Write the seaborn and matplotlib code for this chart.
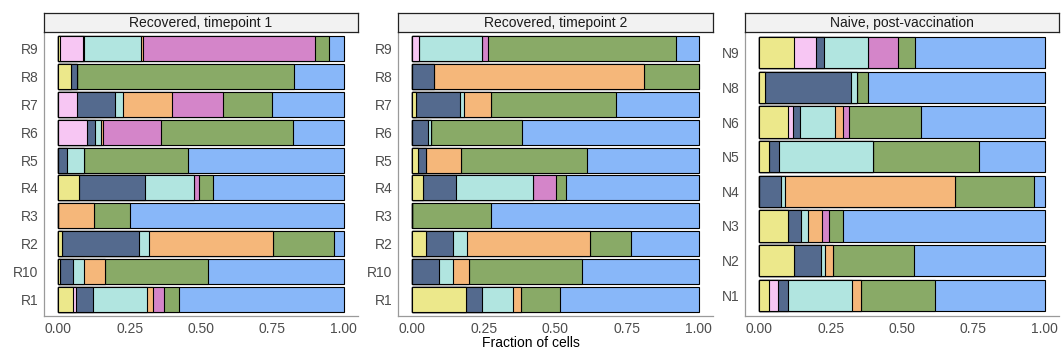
import matplotlib
matplotlib.use("Agg")
import matplotlib.pyplot as plt
import numpy as np
import pandas as pd
import seaborn as sns

# ---- data -------------------------------------------------------------
cell_types = ["Type 1", "Type 2", "Type 3", "Type 4", "Type 5", "Type 6", "Type 7", "Type 8"]
type_colors = ["#ECE88B", "#F7C6F3", "#546A8E", "#B1E5E0", "#F5B77A", "#D485C9", "#89AA67", "#88B7F9"]

panel_titles = ["Recovered, timepoint 1", "Recovered, timepoint 2", "Naive, post-vaccination"]

rec1_samples = ["R9", "R8", "R7", "R6", "R5", "R4", "R3", "R2", "R10", "R1"]
rec1_fracs = [
    [0.005, 0.081, 0.005, 0.200, 0.005, 0.604, 0.048, 0.052],
    [0.043, 0.000, 0.023, 0.000, 0.000, 0.000, 0.759, 0.175],
    [0.000, 0.064, 0.135, 0.027, 0.171, 0.179, 0.174, 0.250],
    [0.000, 0.101, 0.029, 0.018, 0.007, 0.205, 0.462, 0.178],
    [0.000, 0.000, 0.029, 0.062, 0.000, 0.000, 0.363, 0.546],
    [0.073, 0.000, 0.231, 0.172, 0.000, 0.016, 0.049, 0.459],
    [0.000, 0.000, 0.000, 0.000, 0.126, 0.000, 0.125, 0.749],
    [0.014, 0.000, 0.269, 0.035, 0.433, 0.000, 0.215, 0.034],
    [0.005, 0.000, 0.047, 0.039, 0.073, 0.000, 0.362, 0.474],
    [0.052, 0.010, 0.061, 0.188, 0.021, 0.039, 0.053, 0.576],
]

rec2_samples = ["R9", "R8", "R7", "R6", "R5", "R4", "R3", "R2", "R10", "R1"]
rec2_fracs = [
    [0.000, 0.022, 0.000, 0.223, 0.000, 0.021, 0.654, 0.080],
    [0.000, 0.000, 0.077, 0.000, 0.732, 0.000, 0.191, 0.000],
    [0.013, 0.000, 0.153, 0.013, 0.095, 0.000, 0.439, 0.287],
    [0.000, 0.000, 0.054, 0.012, 0.000, 0.000, 0.317, 0.617],
    [0.019, 0.000, 0.029, 0.000, 0.123, 0.000, 0.440, 0.389],
    [0.038, 0.000, 0.116, 0.269, 0.000, 0.077, 0.038, 0.462],
    [0.000, 0.000, 0.000, 0.000, 0.000, 0.000, 0.274, 0.726],
    [0.048, 0.000, 0.095, 0.048, 0.429, 0.000, 0.142, 0.238],
    [0.000, 0.000, 0.094, 0.048, 0.056, 0.000, 0.396, 0.406],
    [0.189, 0.000, 0.055, 0.108, 0.027, 0.000, 0.136, 0.485],
]

naive_samples = ["N9", "N8", "N6", "N5", "N4", "N3", "N2", "N1"]
naive_fracs = [
    [0.122, 0.077, 0.029, 0.152, 0.000, 0.107, 0.059, 0.454],
    [0.020, 0.000, 0.301, 0.020, 0.000, 0.000, 0.040, 0.619],
    [0.101, 0.018, 0.025, 0.123, 0.026, 0.021, 0.251, 0.435],
    [0.035, 0.000, 0.033, 0.332, 0.000, 0.000, 0.368, 0.232],
    [0.000, 0.000, 0.075, 0.016, 0.594, 0.000, 0.277, 0.038],
    [0.099, 0.000, 0.048, 0.025, 0.048, 0.026, 0.049, 0.705],
    [0.122, 0.000, 0.095, 0.015, 0.026, 0.000, 0.283, 0.459],
    [0.035, 0.031, 0.033, 0.225, 0.034, 0.000, 0.256, 0.386],
]

x_ticks = [0.0, 0.25, 0.5, 0.75, 1.0]
x_tick_labels = ["0.00", "0.25", "0.50", "0.75", "1.00"]
x_label = "Fraction of cells"

# ---- plotting ---------------------------------------------------------
sns.set_theme(style="white")
plt.rcParams["font.family"] = ["Liberation Sans", "DejaVu Sans"]

W, H = 1062, 354
fig = plt.figure(figsize=(W / 100, H / 100), dpi=100)

panels = [
    (rec1_samples, rec1_fracs, 44, 358),
    (rec2_samples, rec2_fracs, 398, 713),
    (naive_samples, naive_fracs, 745, 1059),
]
top_px, bot_px, strip_top = 32, 316, 13
axis_gray = "#9A9A9A"
text_gray = "#4D4D4D"

for (samples, fracs, lpx, rpx), title in zip(panels, panel_titles):
    ax = fig.add_axes([lpx / W, (H - bot_px) / H, (rpx - lpx) / W, (bot_px - top_px) / H])
    cum = np.cumsum(np.array(fracs), axis=1)
    # draw from rightmost (largest cumulative) to leftmost so segments overlay
    for i in range(len(cell_types) - 1, -1, -1):
        df = pd.DataFrame({"sample": samples, "end": cum[:, i]})
        sns.barplot(data=df, x="end", y="sample", order=samples, orient="h",
                    color=type_colors[i], saturation=1, width=0.9,
                    edgecolor="black", linewidth=0.8, errorbar=None, ax=ax)
    n = len(samples)
    ax.set_ylim(n - 0.4, -0.6)
    ax.set_xlim(-0.05, 1.05)
    ax.set_xticks(x_ticks)
    ax.set_xticklabels(x_tick_labels)
    ax.set_xlabel("")
    ax.set_ylabel("")
    ax.tick_params(axis="both", length=0, labelsize=10, colors=text_gray)
    ax.tick_params(axis="y", pad=4)
    ax.tick_params(axis="x", pad=4)
    for s in ["top", "right"]:
        ax.spines[s].set_visible(False)
    for s in ["left", "bottom"]:
        ax.spines[s].set_color(axis_gray)
        ax.spines[s].set_linewidth(0.9)
    ax.set_facecolor("white")

    sax = fig.add_axes([lpx / W, (H - top_px) / H, (rpx - lpx) / W, (top_px - strip_top) / H])
    sax.set_facecolor("#F2F2F2")
    sax.set_xticks([])
    sax.set_yticks([])
    for s in sax.spines.values():
        s.set_visible(True)
        s.set_color("#222222")
        s.set_linewidth(0.9)
    sax.text(0.5, 0.45, title, ha="center", va="center", fontsize=10, color="#1A1A1A",
             transform=sax.transAxes)

fig.text(531 / W, (H - 343) / H, x_label, ha="center", va="center", fontsize=10, color="black")

fig.savefig("out.png", dpi=100)
